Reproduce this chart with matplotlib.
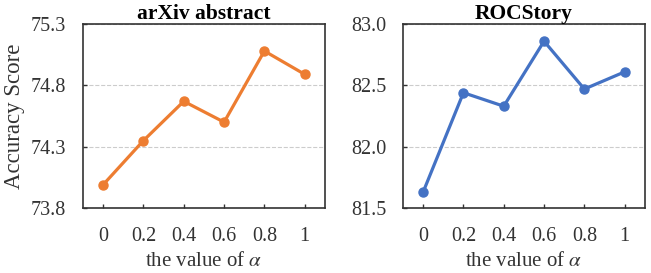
import matplotlib
matplotlib.use("Agg")
import matplotlib.pyplot as plt

alphas = [0, 0.2, 0.4, 0.6, 0.8, 1]
alpha_labels = ["0", "0.2", "0.4", "0.6", "0.8", "1"]

arxiv_scores = [73.99, 74.35, 74.67, 74.50, 75.08, 74.89]
roc_scores = [81.63, 82.44, 82.33, 82.86, 82.47, 82.61]

arxiv_yticks = [73.8, 74.3, 74.8, 75.3]
roc_yticks = [81.5, 82.0, 82.5, 83.0]

plt.rcParams['font.family'] = ['Liberation Serif', 'DejaVu Serif']
plt.rcParams['mathtext.fontset'] = 'stix'

fig = plt.figure(figsize=(6.51, 2.73), dpi=100)
ax1 = fig.add_axes([0.1275, 0.238, 0.3715, 0.674])
ax2 = fig.add_axes([0.619, 0.238, 0.3715, 0.674])

panels = [
    (ax1, arxiv_scores, arxiv_yticks, "arXiv abstract", "#ED7D31"),
    (ax2, roc_scores, roc_yticks, "ROCStory", "#4472C4"),
]

for ax, scores, yticks, title, color in panels:
    ax.plot(alphas, scores, color=color, linewidth=2.3, marker='o',
            markersize=6.5, zorder=3)
    ax.set_xlim(-0.1, 1.1)
    ax.set_ylim(yticks[0], yticks[-1])
    ax.set_xticks(alphas)
    ax.set_xticklabels(alpha_labels)
    ax.set_yticks(yticks)
    ax.set_yticklabels([f"{v:.1f}" for v in yticks])
    ax.tick_params(direction='in', length=3, width=1, labelsize=14.5,
                   colors='#333333')
    ax.tick_params(axis='x', pad=14)
    ax.tick_params(axis='y', pad=12)
    ax.yaxis.grid(True, linestyle='--', color='#cccccc', linewidth=0.8)
    for s in ax.spines.values():
        s.set_color('#333333')
        s.set_linewidth(1.2)
    ax.set_title(title, fontsize=15.5, fontweight='bold', pad=3)
    ax.set_xlabel(r"the value of $\alpha$", fontsize=15, color='#333333',
                  labelpad=4)

ax1.set_ylabel("Accuracy Score", fontsize=16.5, color='#333333', labelpad=4)

fig.savefig("out.png", dpi=100)
